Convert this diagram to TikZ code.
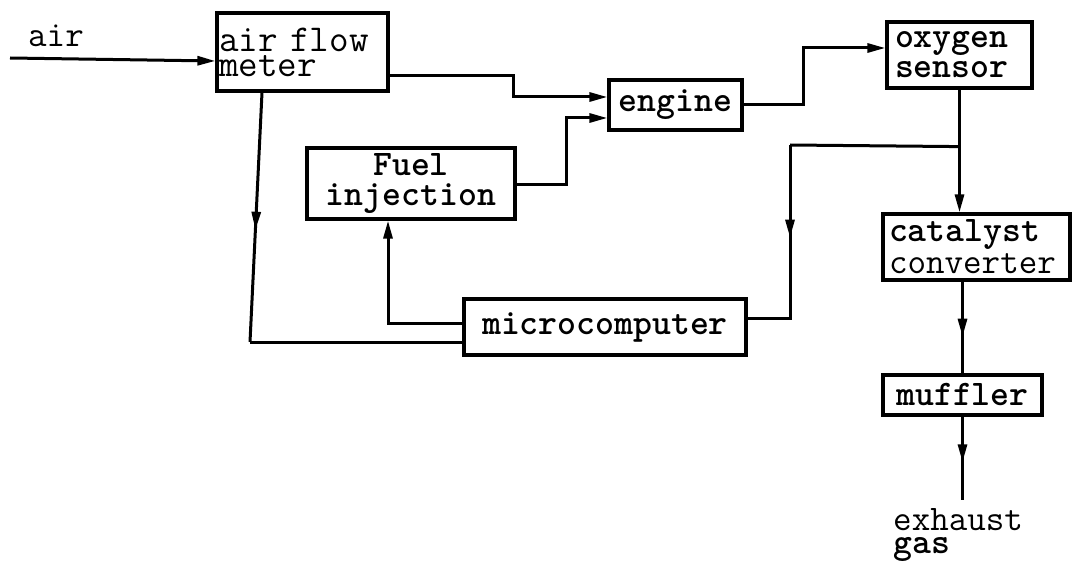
\documentclass[tikz,border=0pt]{standalone}
\usetikzlibrary{arrows.meta,calc,decorations.markings}
\begin{document}
\begin{tikzpicture}[x=1pt,y=-1pt,
  line/.style={line width=3pt},
  arr/.style={line, -{Triangle[length=18pt,width=9pt]}},
  midarr/.style={line, postaction={decorate}, decoration={markings,
      mark=at position #1 with {\arrow{Triangle[length=18pt,width=9pt]}}}},
  box/.style={draw, line width=3.2pt, inner sep=0pt},
  fnt/.style={font=\ttfamily\fontsize{36}{#1}\selectfont},
  bfnt/.style={font=\ttfamily\bfseries\fontsize{36}{#1}\selectfont},
  lbl/.style={inner sep=0pt}
]
\useasboundingbox (0,0) rectangle (1073,569);

% boxes
\node[box, minimum width=171pt, minimum height=78pt, text width=167pt, align=left,
      font=\ttfamily\fontsize{38}{25}\selectfont] (afm) at (302.5,52) {air flow\\meter};
\node[box, bfnt=36, minimum width=133pt, minimum height=50pt] (eng) at (675.5,105) {engine};
\node[box, bfnt=30, minimum width=145pt, minimum height=66pt, text width=129pt, align=left] (oxy) at (959.5,55) {oxygen\\sensor};
\node[box, fnt=32, minimum width=187pt, minimum height=66pt, text width=175pt, align=left] (cat) at (976.5,247) {\bfseries catalyst\\\mdseries converter};
\node[box, bfnt=31, minimum width=208pt, minimum height=71pt, text width=200pt, align=center] (fuel) at (411,183.5) {Fuel\\injection};
\node[box, bfnt=36, minimum width=282pt, minimum height=56pt] (micro) at (605,327) {microcomputer};
\node[box, bfnt=36, minimum width=159pt, minimum height=40pt] (muf) at (962.5,395) {muffler};

% free labels
\node[lbl, fnt=36, anchor=base west] (airlbl) at (28,47) {air};
\node[lbl, fnt=36, anchor=base west] (exh) at (893,530) {exhaust};
\node[lbl, bfnt=36, anchor=base west] (gas) at (893,553) {gas};

% air in
\coordinate (airin) at (10,58);
\draw[arr] (airin) -- ([yshift=-9pt]afm.west);

% air flow meter -> engine
\draw[arr] ([yshift=-24pt]afm.east) -- ++(124,0) |- ([yshift=8pt]eng.west);
% fuel injection -> engine
\draw[arr] ([yshift=-1.5pt]fuel.east) -- ++(50,0) |- ([yshift=-13pt]eng.west);
% engine -> oxygen sensor
\draw[arr] (eng.east) -- ++(60,0) |- ([yshift=7pt]oxy.west);
% oxygen sensor -> catalyst
\draw[arr] (oxy.south) -- (oxy.south |- cat.north);
% branch to microcomputer
\coordinate (br) at ([yshift=-57pt]oxy.south);
\coordinate (rc) at (790,145);
\draw[line] (br) -- (rc);
\draw[midarr=0.43] (rc) |- ([yshift=9pt]micro.east);
% air flow meter -> microcomputer
\coordinate (ltop) at ([xshift=-40.5pt]afm.south);
\coordinate (lbot) at (250,342);
\draw[midarr=0.55] (ltop) -- (lbot);
\draw[line] (lbot) -- (micro.west |- lbot);
% microcomputer -> fuel injection
\draw[arr] ([yshift=4pt]micro.west) -| ([xshift=-23pt]fuel.south);
% catalyst -> muffler
\coordinate (m0) at (muf.north |- cat.south);
\draw[midarr=0.6] (m0) -- (muf.north);
% muffler -> exhaust
\coordinate (eout) at ([yshift=-83pt]muf.south);
\draw[midarr=0.55] (muf.south) -- (eout);
\end{tikzpicture}
\end{document}
